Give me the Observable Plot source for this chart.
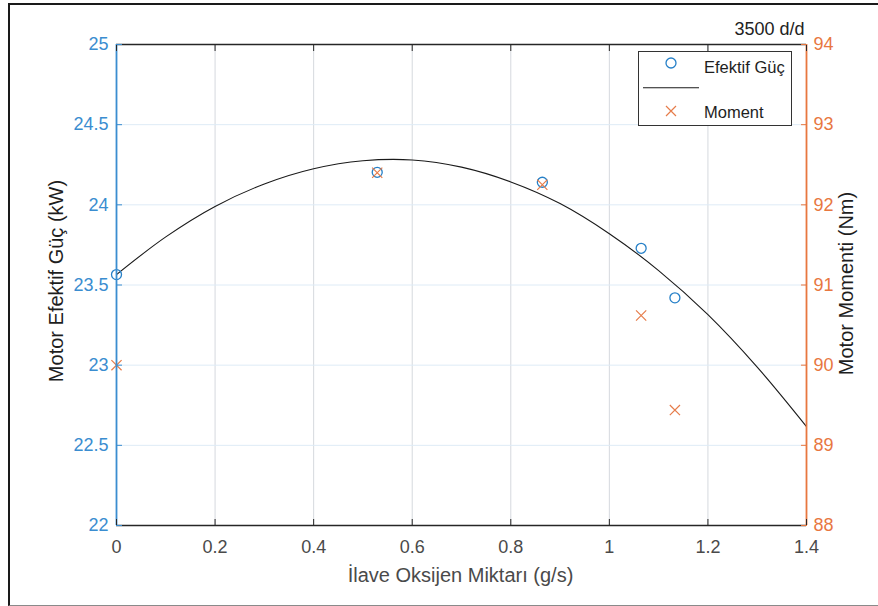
<!DOCTYPE html>
<html><head><meta charset="utf-8">
<script src="https://cdn.jsdelivr.net/npm/d3@7"></script>
<script src="https://cdn.jsdelivr.net/npm/@observablehq/plot@0.6"></script>
<style>
html,body{margin:0;padding:0;background:#fff;}
#wrap{position:relative;width:878px;height:606px;overflow:hidden;font-family:"Liberation Sans",Arial,Helvetica,sans-serif;background:#fff;}
#frame{position:absolute;left:7.5px;top:3px;width:900px;height:602.5px;border-top:2px solid #1a1a1a;border-left:2.5px solid #1a1a1a;border-bottom:1.5px solid #8a8a8a;box-sizing:border-box;pointer-events:none}
#chart{position:absolute;left:0;top:0;}
#legend{position:absolute;left:638px;top:51px;width:154px;height:75px;border:1.3px solid #333;background:#fff;box-sizing:border-box}
#legend svg{position:absolute;left:-1.3px;top:-1.3px;overflow:visible}
</style></head>
<body>
<div id="wrap">
  <div id="chart"></div>
  <div id="frame"></div>
  <div id="legend">
    <svg width="154" height="75" font-family="Liberation Sans, Arial, Helvetica, sans-serif" font-size="16.5">
      <circle cx="33" cy="12" r="5" fill="none" stroke="#2680c8" stroke-width="1.3"/>
      <text x="66" y="21.7" fill="#1e1e1e">Efektif Güç</text>
      <line x1="5" x2="61" y1="36.7" y2="36.7" stroke="#1a1a1a" stroke-width="1.1"/>
      <path d="M28,55L38,65M38,55L28,65" stroke="#e67c4a" stroke-width="1.2" fill="none"/>
      <text x="66" y="67.3" fill="#1e1e1e">Moment</text>
    </svg>
  </div>
</div>
<script>
// ---- data ----
const oxygen = [0, 0.529, 0.864, 1.0645, 1.133];          // İlave Oksijen Miktarı (g/s)
const power  = [23.565, 24.203, 24.141, 23.729, 23.42];  // Motor Efektif Güç (kW)
const torque = [90.0, 92.40, 92.25, 90.62, 89.44];       // Motor Momenti (Nm)
const fitX     = [0, 0.1, 0.2, 0.3, 0.4, 0.5, 0.6, 0.7, 0.8, 0.9, 1.0, 1.1, 1.2, 1.3, 1.4];
const fitPower = [23.565, 23.80, 23.99, 24.13, 24.225, 24.275, 24.28, 24.235, 24.143, 24.008, 23.82, 23.59, 23.315, 22.988, 22.617];
const xTicks      = [0, 0.2, 0.4, 0.6, 0.8, 1, 1.2, 1.4];
const powerTicks  = [22, 22.5, 23, 23.5, 24, 24.5, 25];
const torqueTicks = [88, 89, 90, 91, 92, 93, 94];

const powerDomain = [22, 25], torqueDomain = [88, 94];
const toLeft = m => powerDomain[0] + (m - torqueDomain[0]) * (powerDomain[1] - powerDomain[0]) / (torqueDomain[1] - torqueDomain[0]);
const toRight = p => torqueDomain[0] + (p - powerDomain[0]) * (torqueDomain[1] - torqueDomain[0]) / (powerDomain[1] - powerDomain[0]);
const fmt = d => String(+(+d).toFixed(2));

const blue = "#3a8dd0", blueMarker = "#2680c8";
const orange = "#e8773f", orangeMarker = "#e67c4a";
const dark = "#262626", grey = "#4a4a4a";
const font = "'Liberation Sans', Arial, Helvetica, sans-serif";

const fit = fitX.map((x, i) => ({x, y: fitPower[i]}));
const pts = oxygen.map((x, i) => ({x, p: power[i], m: torque[i]}));

const chart = Plot.plot({
  width: 878, height: 606,
  marginLeft: 116, marginRight: 72, marginTop: 44, marginBottom: 81,
  style: {fontFamily: font, background: "transparent", overflow: "visible"},
  x: {domain: [0, 1.4], label: null},
  y: {domain: powerDomain, label: null},
  marks: [
    Plot.gridX(xTicks.slice(1, -1), {stroke: "#d5d9de", strokeOpacity: 1}),
    Plot.gridY(powerTicks.slice(1, -1), {stroke: "#deebf6", strokeOpacity: 1}),
    Plot.line(fit, {x: "x", y: "y", stroke: "#1a1a1a", strokeWidth: 1.1, curve: "catmull-rom"}),
    Plot.dot(pts, {x: "x", y: "p", r: 5, stroke: blueMarker, strokeWidth: 1.3, fill: "none"}),
    Plot.dot(pts, {x: "x", y: d => toLeft(d.m), symbol: "times", r: 4.7, stroke: orangeMarker, strokeWidth: 1.2}),
    Plot.ruleY([powerDomain[1]], {stroke: dark, strokeWidth: 1.3}),
    Plot.ruleY([powerDomain[0]], {stroke: dark, strokeWidth: 1.3}),
    Plot.ruleX([0], {stroke: blue, strokeWidth: 1.8}),
    Plot.ruleX([1.4], {stroke: orange, strokeWidth: 1.8}),
    Plot.axisX(xTicks, {anchor: "bottom", tickSize: -6, tickPadding: 21, fontSize: 18, tickFormat: fmt, stroke: dark, fill: grey, label: null}),
    Plot.axisX(xTicks, {anchor: "top", tickSize: -6, tickFormat: () => "", stroke: dark, label: null}),
    Plot.axisY(powerTicks, {anchor: "left", tickSize: -6, tickPadding: 14, fontSize: 18, tickFormat: fmt, stroke: blue, fill: blue, label: null}),
    Plot.axisY(torqueTicks.map(toLeft), {anchor: "right", tickSize: -6, tickPadding: 13, fontSize: 18,
      tickFormat: d => String(Math.round(toRight(d))), stroke: orange, fill: orange, label: null}),
    Plot.text(["3500 d/d"], {text: d => d, frameAnchor: "top-right", textAnchor: "end", lineAnchor: "middle", dx: -2, dy: -15, fontSize: 18, fill: "#222"}),
    Plot.text(["Motor Efektif Güç (kW)"], {text: d => d, frameAnchor: "left", textAnchor: "middle", lineAnchor: "middle", rotate: -90, dx: -60, dy: -4, fontSize: 20, fill: "#1e1e1e"}),
    Plot.text(["Motor Momenti (Nm)"], {text: d => d, frameAnchor: "right", textAnchor: "middle", lineAnchor: "middle", rotate: -90, dx: 40, dy: -1.5, fontSize: 20, fill: "#1e1e1e"}),
    Plot.text(["İlave Oksijen Miktarı (g/s)"], {text: d => d, frameAnchor: "bottom", textAnchor: "middle", lineAnchor: "middle", dx: -1, dy: 50, fontSize: 20, fill: grey})
  ]
});
document.getElementById("chart").appendChild(chart);
</script>
</body></html>
